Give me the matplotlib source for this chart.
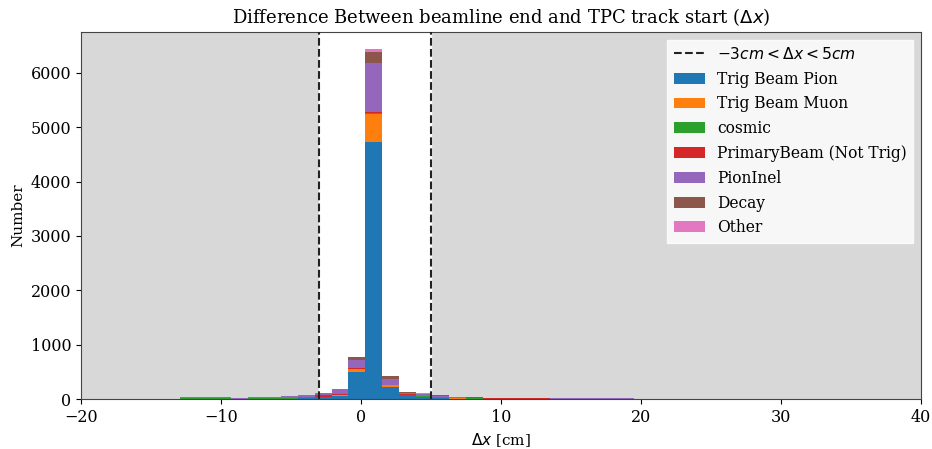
import numpy as np
import matplotlib
matplotlib.use("Agg")
import matplotlib.pyplot as plt

plt.rcParams["font.family"] = "DejaVu Serif"

# bin edges of the delta x histogram (cm)
bin_edges = np.round(-20.1 + 1.2 * np.arange(51), 2)
bin_centers = 0.5 * (bin_edges[:-1] + bin_edges[1:])

labels = ["Trig Beam Pion", "Trig Beam Muon", "cosmic", "PrimaryBeam (Not Trig)",
          "PionInel", "Decay", "Other"]

# counts per bin, one list per category (50 bins)
pion = [0, 0, 0, 0, 0, 0, 10, 10, 10, 3, 8, 8, 10, 20, 35, 60, 505, 4730, 220, 70,
        40, 25, 12, 8, 5, 3, 2, 2, 2, 2, 2, 2, 2, 0, 0, 0, 0, 0, 0, 0,
        0, 0, 0, 0, 0, 0, 0, 0, 0, 0]
muon = [0, 0, 0, 0, 0, 0, 2, 2, 2, 0, 2, 2, 2, 3, 5, 8, 55, 520, 40, 8,
        5, 3, 2, 2, 0, 0, 0, 0, 0, 0, 0, 0, 0, 0, 0, 0, 0, 0, 0, 0,
        0, 0, 0, 0, 0, 0, 0, 0, 0, 0]
cosmic = [6, 5, 5, 6, 5, 6, 10, 10, 10, 8, 10, 10, 8, 8, 5, 3, 2, 5, 3, 3,
          8, 6, 6, 8, 6, 8, 8, 8, 8, 8, 8, 8, 8, 10, 10, 10, 10, 10, 0, 0,
          12, 12, 0, 0, 0, 0, 0, 0, 0, 0]
primary = [0, 0, 6, 2, 0, 0, 2, 2, 2, 0, 2, 2, 4, 8, 25, 15, 10, 15, 5, 10,
           8, 3, 2, 2, 2, 2, 6, 6, 2, 0, 0, 0, 0, 0, 0, 0, 0, 0, 0, 0,
           0, 0, 0, 0, 0, 0, 0, 0, 0, 0]
pion_inel = [2, 1, 1, 2, 3, 6, 20, 20, 20, 5, 12, 12, 25, 35, 40, 95, 140, 915, 105, 25,
             35, 30, 15, 10, 8, 3, 3, 3, 3, 3, 3, 3, 3, 0, 0, 0, 0, 0, 0, 0,
             0, 0, 0, 0, 0, 0, 0, 0, 0, 0]
decay = [0, 0, 0, 0, 0, 0, 2, 2, 2, 2, 3, 3, 3, 4, 5, 8, 55, 195, 50, 15,
         8, 5, 3, 10, 8, 2, 0, 0, 0, 0, 0, 0, 0, 0, 0, 0, 0, 0, 0, 0,
         0, 0, 0, 0, 0, 0, 0, 0, 0, 0]
other = [0, 0, 0, 0, 0, 0, 1, 1, 1, 0, 1, 1, 3, 5, 5, 6, 5, 50, 7, 2,
         4, 2, 1, 1, 0, 0, 0, 0, 0, 0, 0, 0, 0, 0, 0, 0, 0, 0, 0, 0,
         0, 0, 0, 0, 0, 0, 0, 0, 0, 0]

# Selection window
cut_low = -3
cut_high = 5

colors = ["tab:blue", "tab:orange", "tab:green", "tab:red", "tab:purple", "tab:brown", "tab:pink"]

fig = plt.figure(figsize=(9.32, 4.49), dpi=100)
ax = fig.add_axes([0.087, 0.111, 0.901, 0.818])
ax.set_facecolor("#d8d8d8")
ax.axvspan(cut_low, cut_high, color="white", zorder=0)

counts = [pion, muon, cosmic, primary, pion_inel, decay, other]
ax.hist([bin_centers] * len(counts), bins=bin_edges, weights=counts, stacked=True,
        color=colors, label=labels, zorder=2)

ax.axvline(cut_low, color="#222222", linestyle="--", linewidth=1.5, zorder=3,
           label=r"$-3cm < \Delta x < 5cm$")
ax.axvline(cut_high, color="#222222", linestyle="--", linewidth=1.5, zorder=3)

# Formatting
ax.set_xlim(-20, 40)
ax.set_title(r"Difference Between beamline end and TPC track start ($\Delta x$)", fontsize=13)
ax.set_xlabel(r"$\Delta x$ [cm]", fontsize=11)
ax.set_ylabel("Number", fontsize=11)
ax.tick_params(labelsize=11.5)
for spine in ax.spines.values():
    spine.set_color("#444444")

handles, labs = ax.get_legend_handles_labels()
order = [len(handles) - 1] + list(range(len(handles) - 1))
ax.legend([handles[i] for i in order], [labs[i] for i in order], loc="upper right",
          fontsize=11.2, framealpha=0.8, edgecolor="white", fancybox=False)

fig.savefig("out.png", dpi=100)
